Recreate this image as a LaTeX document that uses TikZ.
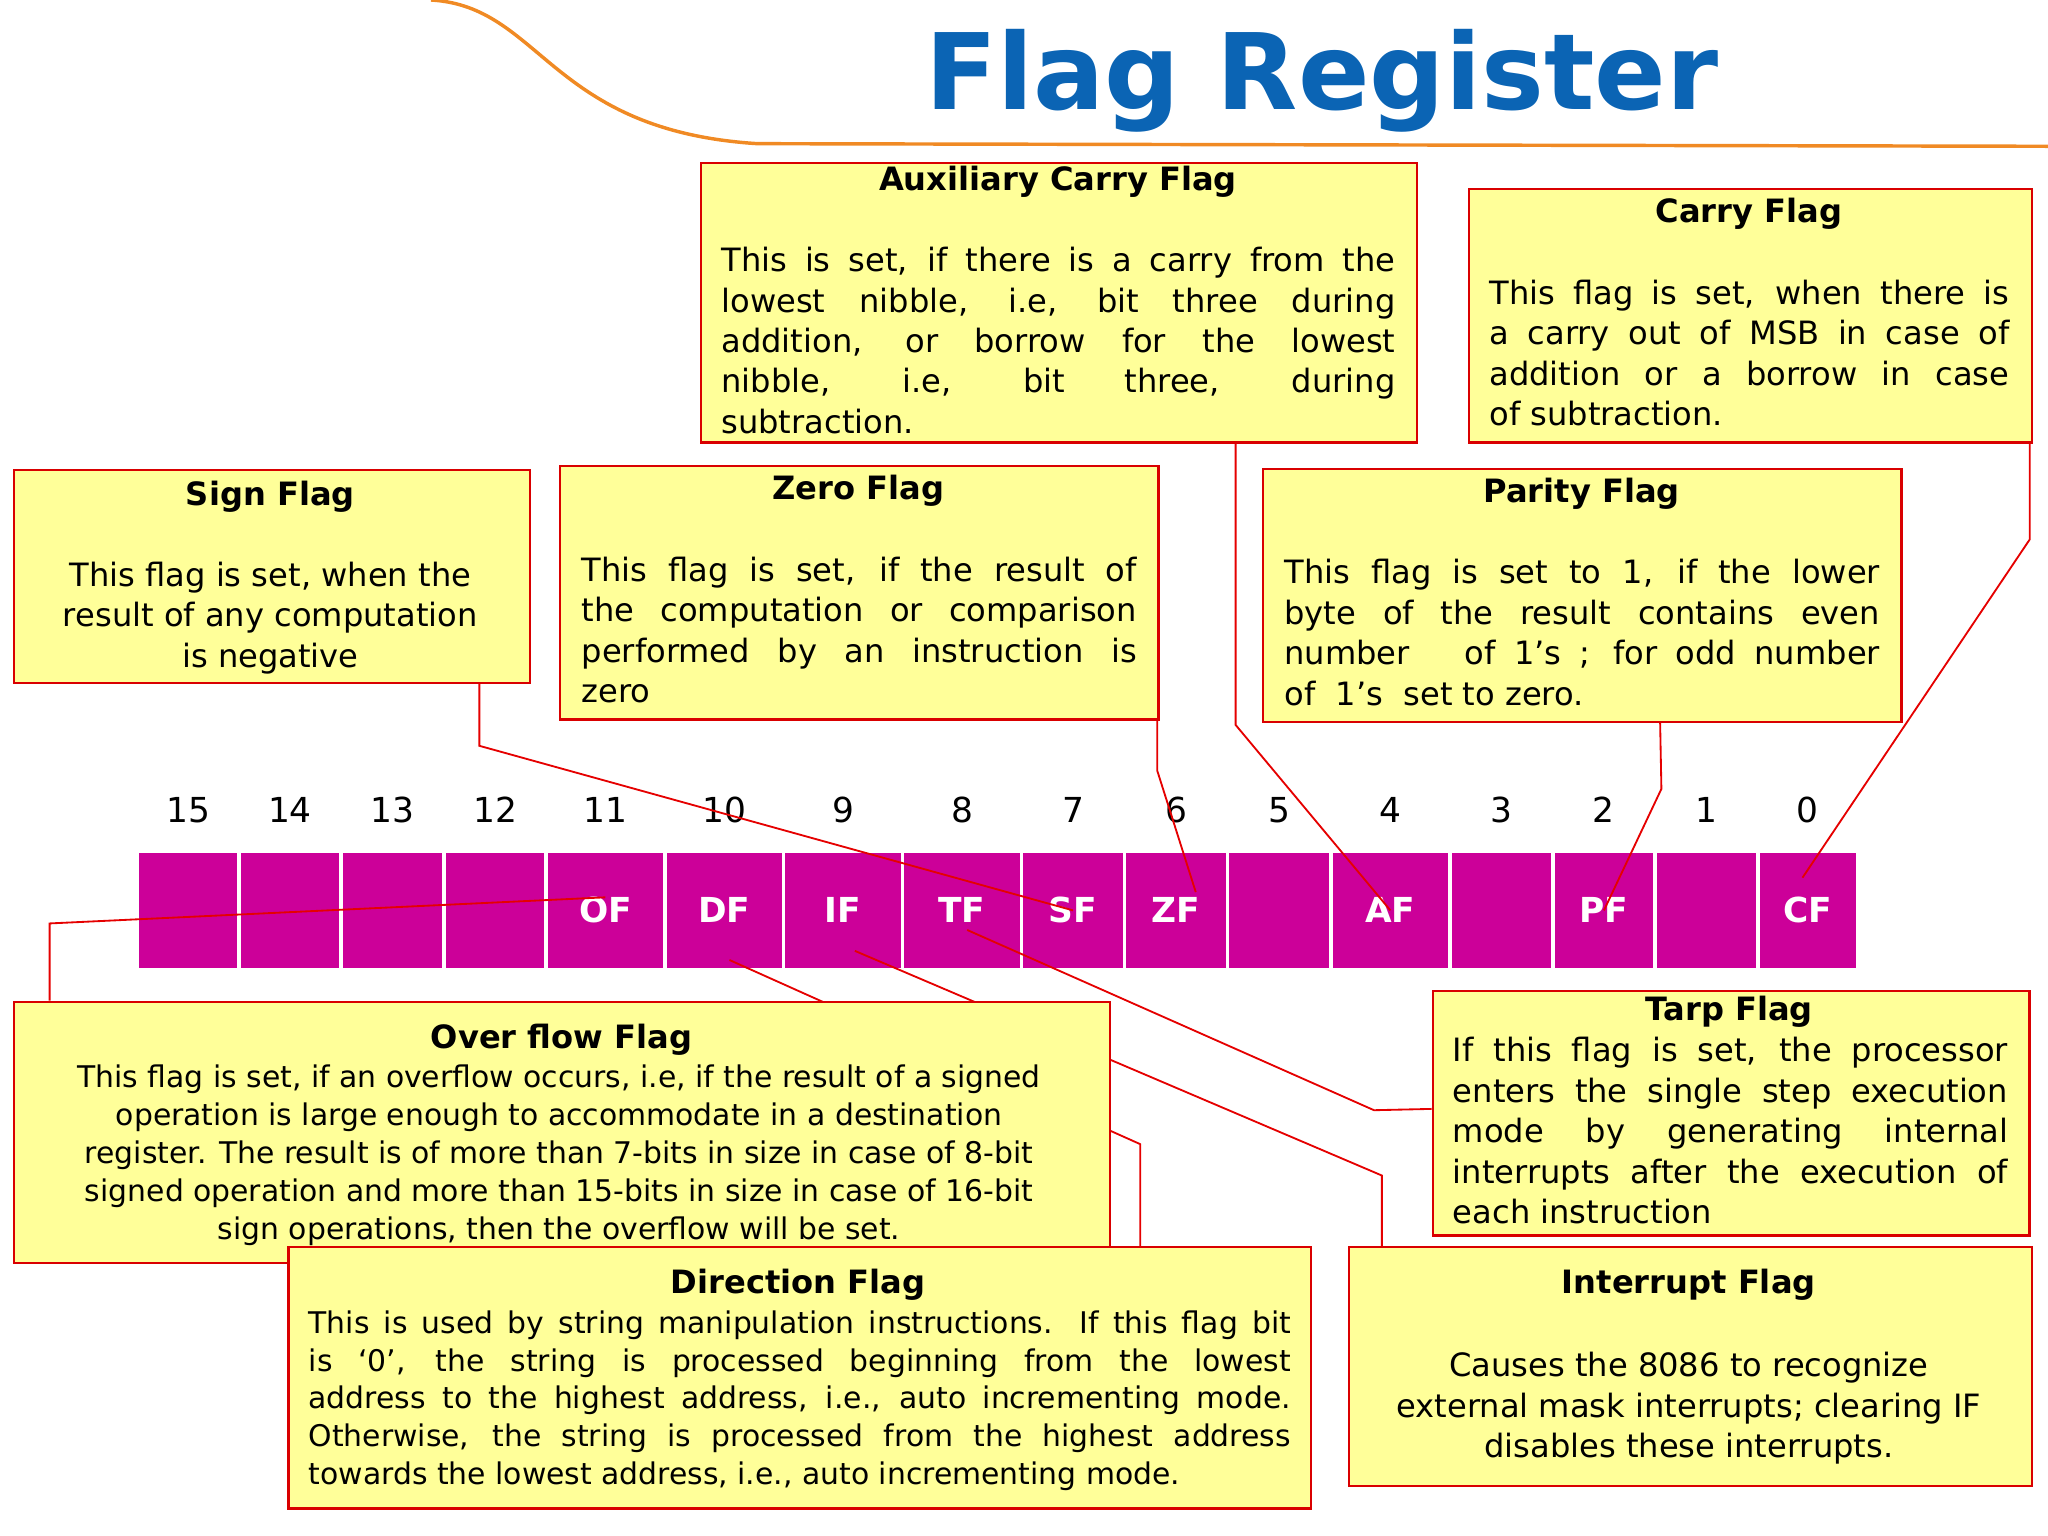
\documentclass[tikz,border=0pt]{standalone}
\usepackage{fontspec}
\setmainfont{DejaVu Sans}
\usetikzlibrary{positioning}
\definecolor{regmag}{HTML}{CC0099}
\definecolor{notey}{HTML}{FFFF99}
\definecolor{titleblue}{HTML}{0B64B4}
\definecolor{curveor}{HTML}{F08A24}
\newdimen\px \px=0.02cm
\tikzset{
  cell/.style={fill=regmag,draw=white,line width=1.5pt,minimum height=91*\px,inner sep=0pt,text=white,font=\fontsize{15}{18}\selectfont\bfseries},
  bitnum/.style={font=\fontsize{15}{18}\selectfont},
  note/.style={fill=notey,draw=red!85!black,line width=1pt,anchor=north west,inner sep=0pt},
  ntitle/.style={font=\fontsize{14}{17}\selectfont\bfseries},
  nbody/.style={font=\fontsize{14}{17.6}\selectfont,inner sep=0pt,anchor=north west,align=justify},
  nsmall/.style={font=\fontsize{13}{16.5}\selectfont,inner sep=0pt},
  link/.style={red!90!black,line width=0.8pt}
}
\begin{document}
\begin{tikzpicture}[x=0.02cm,y=-0.02cm]
\useasboundingbox (0,0) rectangle (1568,1176);
\draw[curveor,line width=1.5pt] (330,0) .. controls (415,5) and (420,100) .. (580,110) -- (1568,112);
\node[text=titleblue,font=\fontsize{46}{50}\selectfont\bfseries] (title) at (1012,62) {Flag Register};

% register cells
\foreach \xa/\xb/\bit/\lab in {105/183/15/{},183/261/14/{},261/340/13/{},340/418/12/{},418/509/11/OF,509/600/10/DF,600/691/9/IF,691/782/8/TF,782/861/7/SF,861/940/6/ZF,940/1019/5/{},1019/1110/4/AF,1110/1189/3/{},1189/1267/2/PF,1267/1346/1/{},1346/1422/0/CF}{
  \node[cell,minimum width={(\xb-\xa)*\px}] (c\bit) at ({(\xa+\xb)/2},697) {\raisebox{-7\px}{\lab}};
  \node[bitnum] (n\bit) at ({(\xa+\xb)/2},620) {\bit};
}

% connectors
\draw[link] (360,522) -- (367,522) -- (367,571) -- (c7.center);
\draw[link] (886,550) -- (886,590) -- ([shift={(15,-14)}]c6.center);
\draw[link] (946,338) -- (946,555) -- (c4.center);
\draw[link] (1271,552) -- (1272,604) -- (c2.center);
\draw[link] (1554,338) -- (1554,413) -- ([shift={(-4,-25)}]c0.center);
\draw[link] ([yshift=10\px]c11.center) -- (38,707) -- (38,766);
\draw[link] ([shift={(4,38)}]c10.center) -- (873,876) -- (873,954);
\draw[link] ([shift={(9,31)}]c9.center) -- (1058,900) -- (1058,954);
\draw[link] ([shift={(4,15)}]c8.center) -- (1052,850) -- (1096,849);

% notes
\node[note,minimum width=548*\px,minimum height=214*\px] (auxbox) at (536,124) {};
\node[ntitle] (auxtitle) at (810,139) {Auxiliary Carry Flag};
\node[nbody,text width=516*\px] (auxtext) at (552,189) {This is set, if there is a carry from the\linebreak lowest nibble, i.e, bit three during\linebreak addition, or borrow for the lowest\linebreak nibble, i.e, bit three, during\linebreak subtraction.};

\node[note,minimum width=431*\px,minimum height=194*\px] (carrybox) at (1124,144) {};
\node[ntitle] (carrytitle) at (1339,164) {Carry Flag};
\node[nbody,text width=398*\px] (carrytext) at (1140,214) {This flag is set, when there is\linebreak a carry out of MSB in case of\linebreak addition or a borrow in case\linebreak of subtraction.};

\node[note,minimum width=395*\px,minimum height=163*\px] (signbox) at (10,359) {};
\node[ntitle] (signtitle) at (207,380) {Sign Flag};
\node[nbody,align=center,anchor=north] (signtext) at (207,430) {This flag is set, when the\\result of any computation\\is negative};

\node[note,minimum width=458*\px,minimum height=194*\px] (zerobox) at (428,356) {};
\node[ntitle] (zerotitle) at (657,376) {Zero Flag};
\node[nbody,text width=425*\px] (zerotext) at (445,426) {This flag is set, if the result of\linebreak the computation or comparison\linebreak performed by an instruction is\linebreak zero};

\node[note,minimum width=489*\px,minimum height=194*\px] (paritybox) at (966,358) {};
\node[ntitle] (paritytitle) at (1211,378) {Parity Flag};
\node[nbody,text width=456*\px] (paritytext) at (983,428) {This flag is set to 1, if the lower\linebreak byte of the result contains even\linebreak number ~ of 1’s ; for odd number\linebreak of ~1’s ~set to zero.};

\node[note,minimum width=839*\px,minimum height=200*\px] (overbox) at (10,766) {};
\node[ntitle] (overtitle) at (430,796) {Over flow Flag};
\node[nsmall,align=center,anchor=north] (overtext) at (428,815) {This flag is set, if an overflow occurs, i.e, if the result of a signed\\operation is large enough to accommodate in a destination\\register. The result is of more than 7-bits in size in case of 8-bit\\signed operation and more than 15-bits in size in case of 16-bit\\sign operations, then the overflow will be set.};

\node[note,minimum width=457*\px,minimum height=187*\px] (tarpbox) at (1096,758) {};
\node[ntitle] (tarptitle) at (1324,775) {Tarp Flag};
\node[nbody,text width=425*\px] (tarptext) at (1112,794) {If this flag is set, the processor\linebreak enters the single step execution\linebreak mode by generating internal\linebreak interrupts after the execution of\linebreak each instruction};

\node[note,minimum width=783*\px,minimum height=200*\px] (dirbox) at (220,954) {};
\node[ntitle] (dirtitle) at (611,984) {Direction Flag};
\node[nsmall,anchor=north west,align=justify,text width=752*\px] (dirtext) at (236,1003) {This is used by string manipulation instructions. If this flag bit\linebreak is ‘0’, the string is processed beginning from the lowest\linebreak address to the highest address, i.e., auto incrementing mode.\linebreak Otherwise, the string is processed from the highest address\linebreak towards the lowest address, i.e., auto incrementing mode.};

\node[note,minimum width=523*\px,minimum height=183*\px] (intbox) at (1032,954) {};
\node[ntitle] (inttitle) at (1293,984) {Interrupt Flag};
\node[nbody,align=center,anchor=north] (inttext) at (1293,1035) {Causes the 8086 to recognize\\external mask interrupts; clearing IF\\disables these interrupts.};
\end{tikzpicture}
\end{document}
